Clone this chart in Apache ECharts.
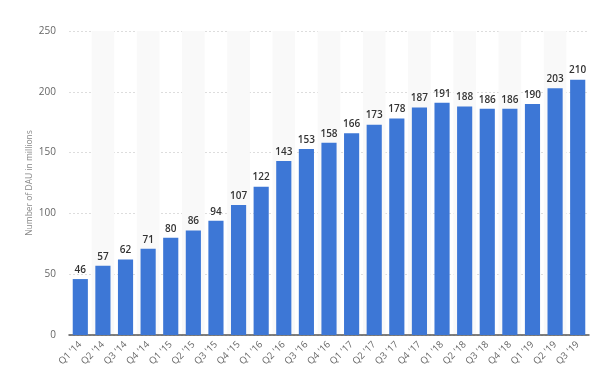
<!DOCTYPE html>
<html><head><meta charset="utf-8">
<script src="https://cdn.jsdelivr.net/npm/echarts@6/dist/echarts.min.js"></script>
<style>html,body{margin:0;padding:0;background:#fff}#c{width:600px;height:384px}</style>
</head><body><div id="c"></div>
<script>
const categories = ["Q1 '14","Q2 '14","Q3 '14","Q4 '14","Q1 '15","Q2 '15","Q3 '15","Q4 '15","Q1 '16","Q2 '16","Q3 '16","Q4 '16","Q1 '17","Q2 '17","Q3 '17","Q4 '17","Q1 '18","Q2 '18","Q3 '18","Q4 '18","Q1 '19","Q2 '19","Q3 '19"];
const dau = [46,57,62,71,80,86,94,107,122,143,153,158,166,173,178,187,191,188,186,186,190,203,210];
const yTicks = {min:0, max:250, interval:50};
const chart = echarts.init(document.getElementById('c'));
chart.setOption({
  animation:false,
  grid:{left:69,right:11,top:31,bottom:49},
  xAxis:{type:'category',data:categories,
    axisLine:{lineStyle:{color:'#555',width:1.5}},
    axisTick:{show:false},
    axisLabel:{rotate:45,color:'#666',fontSize:9.5,fontFamily:'Open Sans',margin:8,interval:0},
    splitArea:{show:true,areaStyle:{color:['rgba(255,255,255,0)','#f9f9f9']}}
  },
  yAxis:{type:'value',min:yTicks.min,max:yTicks.max,interval:yTicks.interval,
    name:'Number of DAU in millions',nameLocation:'middle',nameGap:35,nameMoveOverlap:false,
    nameTextStyle:{color:'#888',fontSize:8.5,fontFamily:'Open Sans'},
    axisLine:{show:false},axisTick:{show:false},
    axisLabel:{color:'#666',fontSize:10,fontFamily:'Open Sans',margin:13},
    splitLine:{lineStyle:{color:'#ddd',type:[2,2]}}
  },
  series:[{type:'bar',data:dau,barCategoryGap:'33%',
    itemStyle:{color:'#3d77d6'},
    label:{show:true,position:'top',color:'#333',fontWeight:600,fontSize:10,fontFamily:'Open Sans',distance:4}
  }]
});
</script></body></html>
